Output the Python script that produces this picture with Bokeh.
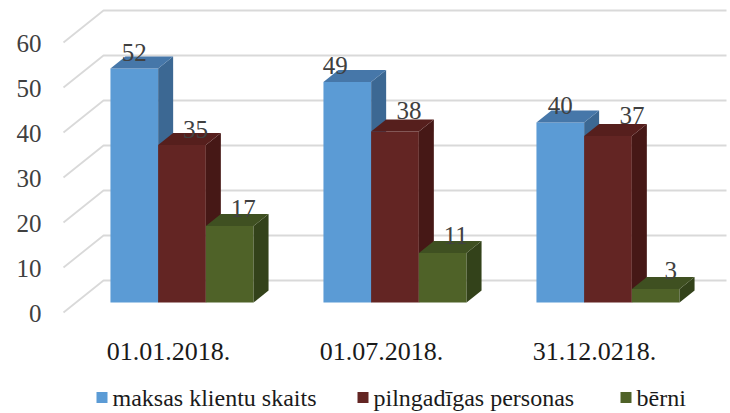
from bokeh.plotting import figure
from bokeh.models import Range1d
from bokeh.core.properties import value
from bokeh.embed import file_html
from bokeh.resources import INLINE

# ---- data ----
categories = ["01.01.2018.", "01.07.2018.", "31.12.0218."]
series_names = ["maksas klientu skaits", "pilngadīgas personas", "bērni"]
maksas = [52, 49, 40]
pilngadigas = [35, 38, 37]
berni = [17, 11, 3]
y_ticks = [0, 10, 20, 30, 40, 50, 60]

series = [maksas, pilngadigas, berni]

# ---- style ----
front_cols = ["#5B9BD5", "#632523", "#4F6228"]
top_cols = ["#4677A9", "#561F1D", "#3F5021"]
side_cols = ["#3C6893", "#461816", "#33421A"]
FONT = value("Liberation Serif")

W, H = 730, 413
PX_PER_UNIT_Y = 4.5        # pixels per value unit
GROUP_PX = 213.0           # pixels between groups
BAR_PX = 47.7              # bar width in pixels
G0_CENTER = 181.5          # image x of first group centre
BASE_Y = 302.0             # image y of bar base


def ux(px):
    return (px - G0_CENTER) / GROUP_PX


def vy(py):
    return (BASE_Y - py) / PX_PER_UNIT_Y


def dux(dpx):
    return dpx / GROUP_PX


def dvy(dpy):
    return -dpy / PX_PER_UNIT_Y


p = figure(width=W, height=H, output_backend="svg", toolbar_location=None,
           x_range=Range1d(ux(0), ux(W)), y_range=Range1d(vy(H), vy(0)),
           min_border=0, outline_line_color=None)
p.axis.visible = False
p.grid.visible = False
p.background_fill_color = "white"
p.border_fill_color = "white"

# gridlines on the 3D walls
grid_col = "#D9D9D9"
front_x, back_x, right_x = 63, 103, 726
front_dy, back_dy = 10, -22  # relative to bar base plane
for t in y_ticks:
    xs = [ux(front_x), ux(back_x), ux(right_x)]
    ys = [t + dvy(front_dy), t + dvy(back_dy), t + dvy(back_dy)]
    p.line(xs, ys, line_color=grid_col, line_width=1.8)

# y tick labels
p.text(x=[ux(41)] * len(y_ticks), y=[t + dvy(front_dy + 1) for t in y_ticks],
       text=[str(t) for t in y_ticks], text_font=FONT, text_font_size="25px",
       text_align="right", text_baseline="middle", text_color="#404040")

# bars
ddx, ddy = dux(15), dvy(-12)
bw = dux(BAR_PX)
for gi in range(len(categories)):
    for si, s in enumerate(series):
        v = s[gi]
        xl = gi - 1.5 * bw + si * bw
        xr = xl + bw
        p.quad(left=[xl], right=[xr], bottom=[0], top=[v],
               fill_color=front_cols[si], line_color=None)
        p.patch([xr, xr, xr + ddx, xr + ddx], [0, v, v + ddy, ddy],
                fill_color=side_cols[si], line_color=None)
        p.patch([xl, xr, xr + ddx, xl + ddx], [v, v, v + ddy, v + ddy],
                fill_color=top_cols[si], line_color=None)

# data labels (nudges in pixels)
lab_dx = [[0, 13.5, 13.5], [-12, 14, 13], [0, 24, 15]]
lab_dy = [[16, 16, 17.5], [16.5, 21, 17.5], [16.7, 20.5, 18.5]]
lx, ly, lt = [], [], []
for gi in range(len(categories)):
    for si, s in enumerate(series):
        v = s[gi]
        xc = gi - 1.5 * bw + (si + 0.5) * bw
        lx.append(xc + dux(lab_dx[gi][si]))
        ly.append(v + lab_dy[gi][si] / PX_PER_UNIT_Y)
        lt.append(str(v))
p.text(x=lx, y=ly, text=lt, text_font=FONT, text_font_size="25px",
       text_align="center", text_baseline="alphabetic", text_color="#404040")

# category labels
p.text(x=[i + dux(-13.5) for i in range(len(categories))],
       y=[vy(351)] * len(categories), text=categories, text_font=FONT,
       text_font_size="26px", text_align="center", text_baseline="alphabetic",
       text_color="#1a1a1a")

# legend
leg_x = [96, 357, 620]
leg_y = 397
sq = 11
for i, name in enumerate(series_names):
    p.quad(left=[ux(leg_x[i])], right=[ux(leg_x[i] + sq)],
           bottom=[vy(leg_y + sq / 2)], top=[vy(leg_y - sq / 2)],
           fill_color=front_cols[i], line_color=None)
    p.text(x=[ux(leg_x[i] + sq + 5)], y=[vy(leg_y)], text=[name], text_font=FONT,
           text_font_size="24px", text_align="left", text_baseline="middle",
           text_color="#1a1a1a")

open("out.html", "w").write(file_html(p, INLINE))
